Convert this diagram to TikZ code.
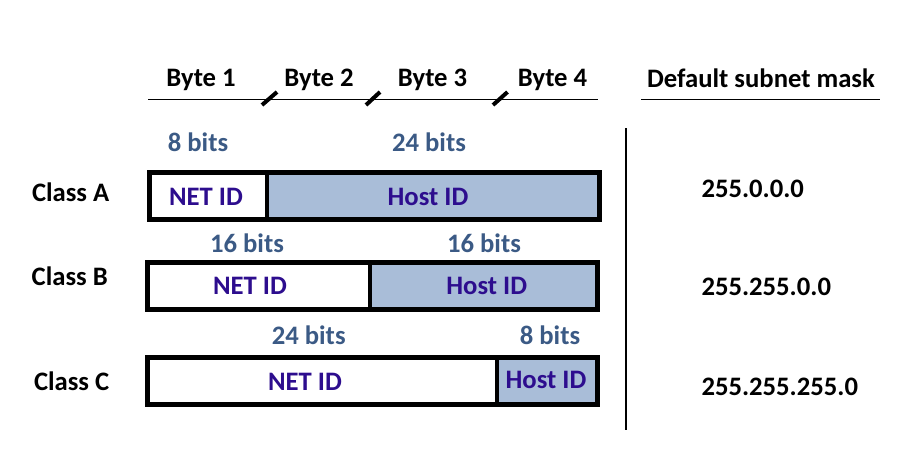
\documentclass[tikz,border=0pt]{standalone}
\usepackage{fontspec}
\setmainfont{Carlito}
\definecolor{hostfill}{HTML}{A9BDD8}
\definecolor{idtext}{HTML}{2D0D8E}
\definecolor{bitstext}{HTML}{3B5A85}
\begin{document}
\begin{tikzpicture}[x=0.75pt,y=-0.75pt,
  every node/.style={font=\fontsize{20}{24}\selectfont\bfseries, inner sep=0pt, outer sep=0pt},
  txt/.style={anchor=base},
  bits/.style={anchor=base, text=bitstext},
  idlabel/.style={anchor=base, text=idtext},
  netcell/.style={draw=black, line width=2.6pt, fill=white, anchor=north west},
  hostcell/.style={draw=black, line width=2.6pt, fill=hostfill, anchor=north west},
  outer/.style={draw=black, line width=3.75pt},
  rule/.style={draw=black, line width=1.1pt},
  tick/.style={draw=black, line width=3pt}
]
\useasboundingbox (0,0) rectangle (917,455);

% header
\node[txt] (b1) at (201,86.5) {Byte 1};
\node[txt] (b2) at (319,86.5) {Byte 2};
\node[txt] (b3) at (432.5,86.5) {Byte 3};
\node[txt] (b4) at (552.5,86.5) {Byte 4};
\coordinate (hl) at (148,99.3);
\coordinate (hr) at (597.5,99.3);
\draw[rule] (hl) -- (hr);
\coordinate (t1a) at (262,105); \coordinate (t1b) at (277,92);
\coordinate (t2a) at (366,105); \coordinate (t2b) at (380,92);
\coordinate (t3a) at (493,105); \coordinate (t3b) at (507.5,92);
\draw[tick] (t1a) -- (t1b);
\draw[tick] (t2a) -- (t2b);
\draw[tick] (t3a) -- (t3b);

\node[txt] (dsm) at (761,87) {Default subnet mask};
\coordinate (ml) at (641,99.3);
\coordinate (mr) at (880,99.3);
\draw[rule] (ml) -- (mr);

\coordinate (vt) at (626,128);
\coordinate (vb) at (626,430);
\draw[black, line width=0.9pt] (vt) -- (vb);

% Class A
\node[bits] (bA1) at (198,151.7) {8 bits};
\node[bits] (bA2) at (429,151.7) {24 bits};
\node[txt, anchor=base west] (cA) at (32,201) {Class A};
\path (149,172.5) node[netcell, minimum width=88.5pt, minimum height=35pt] (netA) {};
\path (267,172.5) node[hostcell, minimum width=249pt, minimum height=35pt] (hostA) {};
\draw[outer] (netA.north west) rectangle (hostA.south east);
\node[idlabel] (netAt) at (206,205) {NET ID};
\node[idlabel] (hostAt) at (428,205) {Host ID};
\node[txt, anchor=base west] (mA) at (701.5,197) {255.0.0.0};

% Class B
\node[bits] (bB1) at (247,252) {16 bits};
\node[bits] (bB2) at (484,252) {16 bits};
\node[txt, anchor=base west] (cB) at (31.7,285.7) {Class B};
\path (147.5,262.5) node[netcell, minimum width=166.9pt, minimum height=34.9pt] (netB) {};
\path (370,262.5) node[hostcell, minimum width=170.6pt, minimum height=34.9pt] (hostB) {};
\draw[outer] (netB.north west) rectangle (hostB.south east);
\node[idlabel] (netBt) at (250,294.3) {NET ID};
\node[idlabel] (hostBt) at (486.7,294.3) {Host ID};
\node[txt, anchor=base west] (mB) at (701.5,295) {255.255.0.0};

% Class C
\node[bits] (bC1) at (308.7,344.3) {24 bits};
\node[bits] (bC2) at (550,344.3) {8 bits};
\node[txt, anchor=base west] (cC) at (34,390.7) {Class C};
\path (147.5,357.5) node[netcell, minimum width=262.1pt, minimum height=34.9pt] (netC) {};
\path (497,357.5) node[hostcell, minimum width=75.4pt, minimum height=34.9pt] (hostC) {};
\draw[outer] (netC.north west) rectangle (hostC.south east);
\node[idlabel] (netCt) at (305,390) {NET ID};
\node[idlabel] (hostCt) at (546,388.5) {Host ID};
\node[txt, anchor=base west] (mC) at (701.5,395) {255.255.255.0};
\end{tikzpicture}
\end{document}
